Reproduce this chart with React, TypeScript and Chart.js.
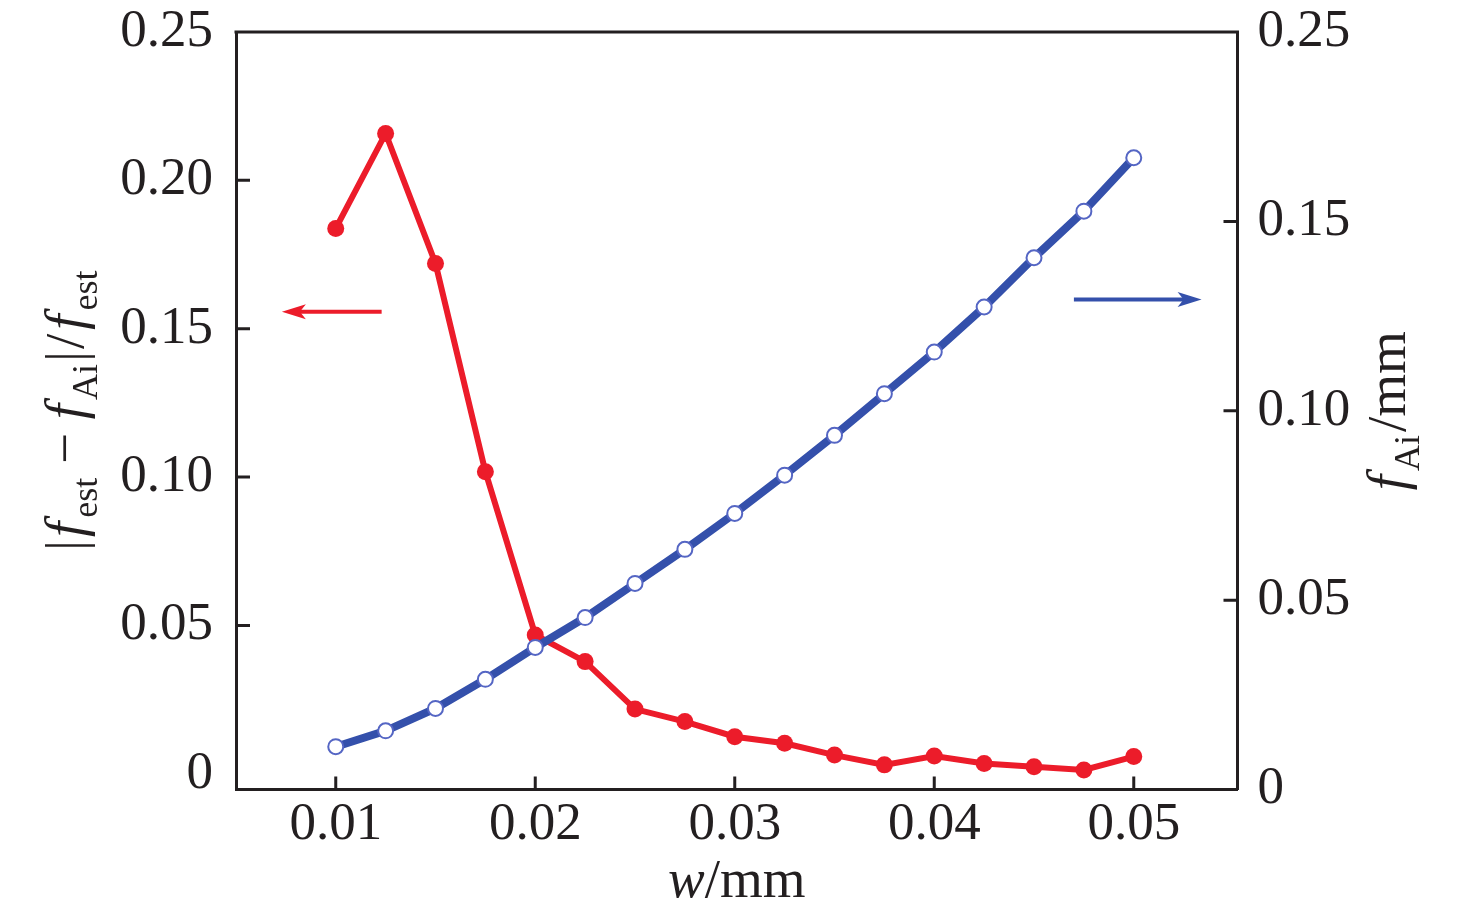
import React, { useEffect, useRef } from "react";
import { Chart, registerables } from "chart.js";

Chart.register(...registerables);

// ---- data ----
const wValues = [0.01, 0.0125, 0.015, 0.0175, 0.02, 0.0225, 0.025, 0.0275, 0.03, 0.0325, 0.035, 0.0375, 0.04, 0.0425, 0.045, 0.0475, 0.05];
const relError = [0.1838, 0.2158, 0.172, 0.1018, 0.0468, 0.0378, 0.0218, 0.0176, 0.0125, 0.0103, 0.0063, 0.003, 0.006, 0.0035, 0.0024, 0.0013, 0.0058];
const fAi = [0.0113, 0.0155, 0.0214, 0.0291, 0.0375, 0.0454, 0.0544, 0.0634, 0.0729, 0.083, 0.0935, 0.1045, 0.1155, 0.1274, 0.1404, 0.1527, 0.1668];

const xTickValues = [0.01, 0.02, 0.03, 0.04, 0.05];
const xTickLabels = ["0.01", "0.02", "0.03", "0.04", "0.05"];
const leftTickValues = [0, 0.05, 0.1, 0.15, 0.2, 0.25];
const leftTickLabels = ["0", "0.05", "0.10", "0.15", "0.20", "0.25"];
const rightTickValues = [0, 0.05, 0.1, 0.15, 0.2];
const rightTickLabels = ["0", "0.05", "0.10", "0.15", "0.25"];

// arrows in data units: [x0, x1, y] ; direction from x0 to x1
const leftArrow = [0.0123, 0.0073, 0.1557];
const rightArrow = [0.047, 0.0534, 0.1294];

const RED = "#ec1c2a";
const BLUE = "#3450ab";
const BLUE_RING = "#5566c4";
const INK = "#231f20";
const FONT = '"Liberation Serif", "Times New Roman", serif';

type Seg = { t: string; it?: boolean; sub?: boolean; gap?: number };

function drawRich(ctx: CanvasRenderingContext2D, segs: Seg[], cx: number, cy: number, rot: number, size: number, subSize: number, subShift: number) {
  ctx.save();
  ctx.translate(cx, cy);
  ctx.rotate(rot);
  ctx.fillStyle = INK;
  ctx.textBaseline = "alphabetic";
  ctx.textAlign = "left";
  const fontFor = (s: Seg) => `${s.it ? "italic " : ""}${s.sub ? subSize : size}px ${FONT}`;
  let total = 0;
  const widths = segs.map((s) => {
    ctx.font = fontFor(s);
    const w = ctx.measureText(s.t).width + (s.gap || 0);
    total += w;
    return w;
  });
  let x = -total / 2;
  segs.forEach((s, i) => {
    ctx.font = fontFor(s);
    ctx.fillText(s.t, x, s.sub ? subShift : 0);
    x += widths[i];
  });
  ctx.restore();
}

function drawArrow(ctx: CanvasRenderingContext2D, x0: number, x1: number, y: number, color: string) {
  const dir = Math.sign(x1 - x0);
  const headLen = 24;
  const headHalf = 7.5;
  ctx.save();
  ctx.strokeStyle = color;
  ctx.fillStyle = color;
  ctx.lineWidth = 4;
  ctx.beginPath();
  ctx.moveTo(x0, y);
  ctx.lineTo(x1 - dir * headLen * 0.6, y);
  ctx.stroke();
  ctx.beginPath();
  ctx.moveTo(x1, y);
  ctx.lineTo(x1 - dir * headLen, y - headHalf);
  ctx.lineTo(x1 - dir * headLen * 0.75, y);
  ctx.lineTo(x1 - dir * headLen, y + headHalf);
  ctx.closePath();
  ctx.fill();
  ctx.restore();
}

const framePlugin = {
  id: "frame",
  afterDraw(chart: any) {
    const ctx: CanvasRenderingContext2D = chart.ctx;
    const { left, right, top, bottom } = chart.chartArea;
    const xs = chart.scales.x;
    const yl = chart.scales.yL;
    const yr = chart.scales.yR;
    ctx.save();
    ctx.strokeStyle = INK;
    ctx.lineWidth = 3;
    ctx.lineCap = "butt";
    // top border
    ctx.beginPath();
    ctx.moveTo(left - 1.5, top);
    ctx.lineTo(right + 1.5, top);
    ctx.stroke();
    // inward ticks
    ctx.beginPath();
    xTickValues.forEach((v) => {
      const px = xs.getPixelForValue(v);
      ctx.moveTo(px, bottom);
      ctx.lineTo(px, bottom - 13);
    });
    leftTickValues.forEach((v) => {
      if (v <= 0 || v >= yl.max) return;
      const py = yl.getPixelForValue(v);
      ctx.moveTo(left, py);
      ctx.lineTo(left + 14, py);
    });
    rightTickValues.forEach((v) => {
      if (v <= yr.min || v >= yr.max) return;
      const py = yr.getPixelForValue(v);
      ctx.moveTo(right, py);
      ctx.lineTo(right - 14, py);
    });
    ctx.stroke();
    ctx.restore();

    // arrows
    drawArrow(ctx, xs.getPixelForValue(leftArrow[0]), xs.getPixelForValue(leftArrow[1]), yl.getPixelForValue(leftArrow[2]), RED);
    drawArrow(ctx, xs.getPixelForValue(rightArrow[0]), xs.getPixelForValue(rightArrow[1]), yr.getPixelForValue(rightArrow[2]), BLUE);

    // axis titles
    const midY = (top + bottom) / 2;
    const midX = (left + right) / 2;
    drawRich(
      ctx,
      [
        { t: "|", gap: 3 },
        { t: "f", it: true, gap: 4 },
        { t: "est", sub: true },
        { t: " − " },
        { t: "f", it: true, gap: 4 },
        { t: "Ai", sub: true, gap: 2 },
        { t: "|", gap: 2 },
        { t: "/", gap: 4 },
        { t: "f", it: true, gap: 4 },
        { t: "est", sub: true },
      ],
      83,
      midY,
      -Math.PI / 2,
      55,
      36,
      14
    );
    drawRich(
      ctx,
      [
        { t: "f", it: true, gap: 4 },
        { t: "Ai", sub: true, gap: 3 },
        { t: "/mm" },
      ],
      1405,
      midY,
      -Math.PI / 2,
      55,
      36,
      14
    );
    drawRich(ctx, [{ t: "w", it: true }, { t: "/mm" }], midX, 897, 0, 55, 36, 14);
  },
};

export default function App() {
  const canvasRef = useRef<HTMLCanvasElement | null>(null);

  useEffect(() => {
    if (!canvasRef.current) return;
    const redData = wValues.map((w, i) => ({ x: w, y: relError[i] }));
    const blueData = wValues.map((w, i) => ({ x: w, y: fAi[i] }));
    const tickFont = { family: FONT, size: 53 };

    const chart = new Chart(canvasRef.current, {
      type: "line",
      data: {
        datasets: [
          {
            label: "fAi",
            data: blueData,
            yAxisID: "yR",
            borderColor: BLUE,
            borderWidth: 8,
            pointRadius: 7.5,
            pointBorderWidth: 2,
            pointBackgroundColor: "#ffffff",
            pointBorderColor: BLUE_RING,
            tension: 0,
            order: 0,
          },
          {
            label: "err",
            data: redData,
            yAxisID: "yL",
            borderColor: RED,
            borderWidth: 6,
            pointRadius: 8.5,
            pointBorderWidth: 0,
            pointBackgroundColor: RED,
            pointBorderColor: RED,
            tension: 0,
            order: 1,
          },
        ],
      },
      options: {
        animation: false,
        responsive: true,
        maintainAspectRatio: false,
        layout: { padding: { top: 32, left: 0, right: 0, bottom: 0 } },
        plugins: { legend: { display: false }, tooltip: { enabled: false } },
        scales: {
          x: {
            type: "linear",
            position: "bottom",
            min: 0.005,
            max: 0.0552,
            grid: { display: false, drawTicks: false },
            border: { display: true, color: INK, width: 3 },
            afterBuildTicks: (s: any) => {
              s.ticks = xTickValues.map((v) => ({ value: v }));
            },
            afterFit: (s: any) => {
              s.height = 126.5;
              s.paddingLeft = 0;
              s.paddingRight = 0;
            },
            ticks: {
              autoSkip: false,
              maxRotation: 0,
              color: INK,
              font: tickFont,
              padding: 4,
              callback: (v: any) => xTickLabels[xTickValues.findIndex((t) => Math.abs(t - v) < 1e-9)],
            },
          },
          yL: {
            type: "linear",
            position: "left",
            min: -0.0053,
            max: 0.25,
            grid: { display: false, drawTicks: false },
            border: { display: true, color: INK, width: 3 },
            afterBuildTicks: (s: any) => {
              s.ticks = leftTickValues.map((v) => ({ value: v }));
            },
            afterFit: (s: any) => {
              s.width = 236;
              s.paddingTop = 0;
              s.paddingBottom = 0;
            },
            ticks: {
              autoSkip: false,
              color: INK,
              font: tickFont,
              padding: 23,
              callback: (v: any) => leftTickLabels[leftTickValues.findIndex((t) => Math.abs(t - v) < 1e-9)],
            },
          },
          yR: {
            type: "linear",
            position: "right",
            min: 0,
            max: 0.2,
            grid: { display: false, drawTicks: false },
            border: { display: true, color: INK, width: 3 },
            afterBuildTicks: (s: any) => {
              s.ticks = rightTickValues.map((v) => ({ value: v }));
            },
            afterFit: (s: any) => {
              s.width = 238.5;
              s.paddingTop = 0;
              s.paddingBottom = 0;
            },
            ticks: {
              autoSkip: false,
              color: INK,
              font: tickFont,
              padding: 20,
              callback: (v: any) => rightTickLabels[rightTickValues.findIndex((t) => Math.abs(t - v) < 1e-9)],
            },
          },
        },
      },
      plugins: [framePlugin],
    } as any);

    return () => chart.destroy();
  }, []);

  return (
    <div style={{ position: "fixed", left: 0, top: 0, width: 1476, height: 916, background: "#ffffff" }}>
      <canvas ref={canvasRef} />
    </div>
  );
}
